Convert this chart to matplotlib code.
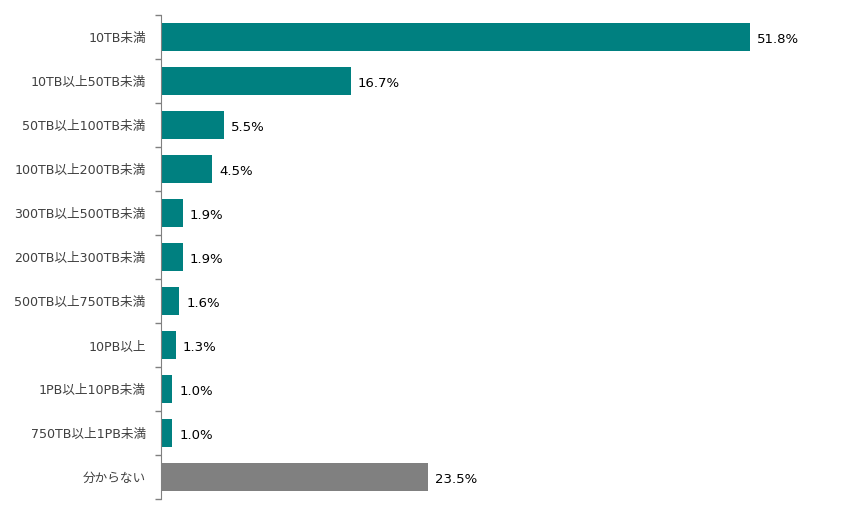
import matplotlib
matplotlib.use("Agg")
import matplotlib.pyplot as plt
import numpy as np

plt.rcParams['font.family'] = ['DejaVu Sans', 'Noto Sans CJK JP']

categories = ["10TB未満", "10TB以上50TB未満", "50TB以上100TB未満", "100TB以上200TB未満",
              "300TB以上500TB未満", "200TB以上300TB未満", "500TB以上750TB未満", "10PB以上",
              "1PB以上10PB未満", "750TB以上1PB未満", "分からない"]
values = [51.8, 16.7, 5.5, 4.5, 1.9, 1.9, 1.6, 1.3, 1.0, 1.0, 23.5]
colors = ["#008080"] * 10 + ["#808080"]

fig = plt.figure(figsize=(8.58, 5.16), dpi=100)
ax = fig.add_axes([161 / 858, 1 - 499 / 516, 682 / 858, 484 / 516])

y = np.arange(len(categories))
ax.barh(y, values, height=0.64, color=colors)
ax.set_ylim(len(categories) - 0.5, -0.5)
ax.set_xlim(0, 60)

for yi, v in zip(y, values):
    ax.annotate(f"{v:.1f}%", (v, yi), xytext=(5, -1.5), textcoords="offset points",
                va="center", ha="left", fontsize=9.5, color="#000000")

ax.set_yticks(y)
ax.set_yticklabels(categories, fontsize=9.1, color="#404040")
ax.set_yticks(np.arange(len(categories) + 1) - 0.5, minor=True)
ax.tick_params(axis="y", which="major", length=0, pad=11)
ax.tick_params(axis="y", which="minor", length=4, color="#808080", width=1)
ax.set_xticks([])
for s in ["top", "right", "bottom"]:
    ax.spines[s].set_visible(False)
ax.spines["left"].set_color("#808080")

fig.savefig("out.png", dpi=100)
